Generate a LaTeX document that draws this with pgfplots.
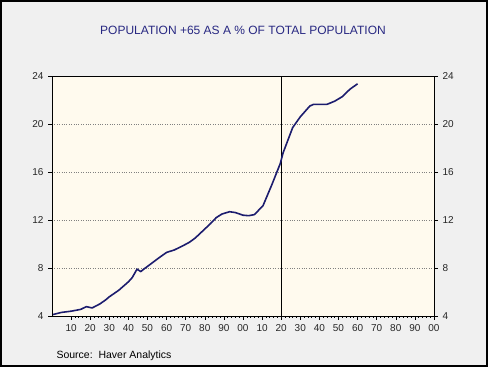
\documentclass[border=0pt]{standalone}
\usepackage{pgfplots}
\pgfplotsset{compat=1.18}
\usepackage{fontspec}
\setmainfont{Liberation Sans}
\definecolor{bggray}{RGB}{240,240,240}
\definecolor{cream}{RGB}{255,250,238}
\definecolor{navy}{RGB}{28,28,110}
\definecolor{titleblue}{RGB}{40,40,130}
\begin{document}
\begin{tikzpicture}
\path[use as bounding box] (0pt,0pt) rectangle (488pt,367pt);
\fill[bggray] (0pt,0pt) rectangle (488pt,367pt);
\draw[black,line width=1.6pt] (0.8pt,0.8pt) rectangle (487.2pt,366.2pt);
\node[font=\fontsize{12}{14}\selectfont,text=titleblue] at (243pt,337pt) {POPULATION +65 AS A \% OF TOTAL POPULATION};
\node[font=\fontsize{10.5}{12}\selectfont,anchor=base west] at (53pt,8pt) {Source:\ \ Haver Analytics};
\begin{axis}[
  at={(52pt,51pt)}, anchor=south west,
  scale only axis, width=382pt, height=240pt,
  xmin=1900, xmax=2100, ymin=4, ymax=24,
  axis background/.style={fill=cream},
  axis line style={black, line width=0.9pt},
  xtick={1910,1920,...,2100},
  xticklabels={10,20,30,40,50,60,70,80,90,00,10,20,30,40,50,60,70,80,90,00},
  minor x tick num=4,
  xtick pos=bottom, ytick pos=left,
  xtick align=outside, ytick align=outside,
  major tick length=4pt, minor tick length=2pt,
  tick style={black, line width=0.6pt},
  ytick={4,8,...,24},
  ymajorgrids, grid style={gray, dotted, line width=0.8pt},
  ticklabel style={font=\fontsize{10}{12}\selectfont, text=black!85},
  /pgf/number format/assume math mode=true,
  xticklabel style={yshift=-1pt},
  yticklabel style={xshift=-1pt},
]
\addplot[black, line width=0.8pt] coordinates {(2020,4) (2020,24)};
\addplot[navy, line width=1.6pt, line join=round] coordinates {
(1900,4.10) (1905,4.30) (1910,4.40) (1915,4.55) (1918,4.78) (1921,4.67)
(1925,5.00) (1928,5.33) (1930,5.60) (1935,6.15) (1940,6.85) (1942,7.20)
(1944.5,7.90) (1946.5,7.70) (1948,7.90) (1951,8.25) (1956,8.85) (1960,9.30)
(1964,9.50) (1968.5,9.85) (1972,10.15) (1975,10.50) (1979,11.10) (1983,11.70)
(1986,12.20) (1989,12.50) (1993,12.69) (1996,12.62) (2000,12.40) (2003,12.36)
(2006,12.45) (2010.5,13.20) (2015,14.90) (2019.5,16.70) (2021,17.60) (2026,19.70)
(2030,20.60) (2035,21.50) (2037,21.64) (2044,21.64) (2048,21.90) (2052,22.28)
(2056,22.90) (2060,23.35)
};
\end{axis}
\begin{axis}[
  at={(52pt,51pt)}, anchor=south west,
  scale only axis, width=382pt, height=240pt,
  xmin=1900, xmax=2100, ymin=4, ymax=24,
  axis line style={black, line width=0.9pt},
  xtick=\empty,
  ytick={4,8,...,24},
  ytick pos=right, yticklabel pos=right,
  ytick align=outside,
  major tick length=4pt,
  tick style={black, line width=0.6pt},
  ticklabel style={font=\fontsize{10}{12}\selectfont, text=black!85},
  /pgf/number format/assume math mode=true,
  yticklabel style={xshift=1pt},
]
\end{axis}
\end{tikzpicture}
\end{document}
